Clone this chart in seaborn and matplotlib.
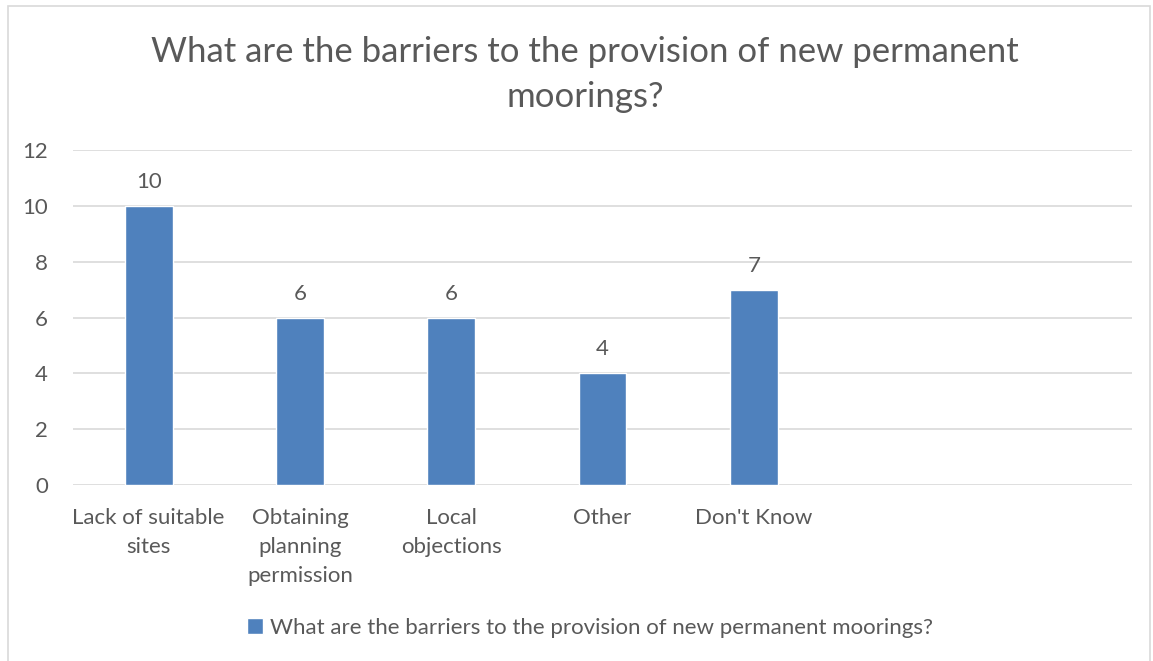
import matplotlib
matplotlib.use("Agg")
import matplotlib.pyplot as plt
import seaborn as sns
import pandas as pd
from matplotlib.patches import Rectangle

categories = ["Lack of suitable\nsites", "Obtaining\nplanning\npermission",
              "Local\nobjections", "Other", "Don't Know"]
values = [10, 6, 6, 4, 7]
series_name = "What are the barriers to the provision of new permanent moorings?"
y_ticks = [0, 2, 4, 6, 8, 10, 12]

sns.set_theme(style="white")
plt.rcParams["font.family"] = ["Lato", "DejaVu Sans"]

TEXT = "#595959"
GRID = "#d9d9d9"
BAR = "#4f81bd"

df = pd.DataFrame({"category": categories, "value": values})

fig = plt.figure(figsize=(11.53, 6.61), dpi=100)
fig.patch.set_facecolor("white")
fig.patches.append(Rectangle((8 / 1153, -0.1), (1150 - 8) / 1153, 1.1 - 6 / 661,
                             transform=fig.transFigure, fill=False,
                             edgecolor=GRID, linewidth=1.2))

ax = fig.add_axes([73 / 1153, 1 - 485 / 661, (1132 - 73) / 1153, (485 - 150) / 661])
sns.barplot(data=df, x="category", y="value", color=BAR, width=0.317,
            saturation=1, ax=ax, label=series_name)

ax.set_xlim(-0.5, 6.5)
ax.set_ylim(0, 12)
ax.set_yticks(y_ticks)
ax.yaxis.grid(True, color=GRID, linewidth=1.2)
ax.set_axisbelow(True)
for s in ax.spines.values():
    s.set_visible(False)
ax.set_xlabel("")
ax.set_ylabel("")
ax.tick_params(axis="y", length=0, pad=18, labelsize=16, labelcolor=TEXT)
ax.tick_params(axis="x", length=0, pad=16.5, labelsize=16, labelcolor=TEXT)
for lbl in ax.get_xticklabels():
    lbl.set_linespacing(1.55)
    lbl.set_verticalalignment("top")

for cont in ax.containers:
    ax.bar_label(cont, labels=[str(v) for v in values], padding=10,
                 fontsize=16, color=TEXT)

fig.text(585 / 1153, 1 - 74.5 / 661,
         "What are the barriers to the provision of new permanent\nmoorings?",
         ha="center", va="center", fontsize=25, color=TEXT, linespacing=1.5)

leg = ax.legend(loc="center", bbox_to_anchor=(590 / 1153, 1 - 628 / 661),
                bbox_transform=fig.transFigure, frameon=False, fontsize=16,
                handlelength=0.7, handleheight=0.7, handletextpad=0.3)
for t in leg.get_texts():
    t.set_color(TEXT)

fig.savefig("out.png", dpi=100, facecolor="white")
